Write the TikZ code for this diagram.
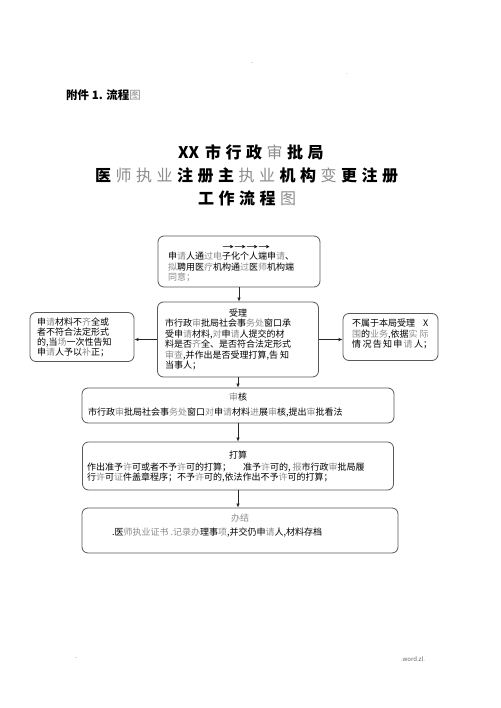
\documentclass[tikz,border=0pt]{standalone}
\usepackage{fontspec}
\setmainfont{Noto Sans CJK SC}
\newfontfamily\dejavu{DejaVu Sans}
\usetikzlibrary{arrows.meta}
\definecolor{lg}{gray}{0.55}
\definecolor{boxc}{gray}{0.35}
\newcommand\gr[1]{\textcolor{lg}{#1}}
\newcommand\grm[1]{\textcolor{lg}{\mdseries #1}}
\newcommand\ts{\hspace{4.5pt}}
\begin{document}
\begin{tikzpicture}[x=1pt,y=-1pt,
  box/.style={draw=boxc,line width=0.8pt,rounded corners=6pt,inner sep=0pt},
  txt/.style={inner sep=0pt,align=left,anchor=north west,font=\fontsize{9}{10.5}\selectfont},
  ctr/.style={inner sep=0pt,font=\fontsize{9}{10.5}\selectfont},
  conn/.style={draw=black!85,line width=0.7pt,-{Latex[length=4pt,width=3.5pt]}},
  ttl/.style={inner sep=0pt,anchor=west,font=\fontsize{16}{20}\selectfont\bfseries},
  straymark/.style={inner sep=0pt,text=lg,font=\fontsize{6}{6}\selectfont}]
\useasboundingbox (0,0) rectangle (500,708);
\fill[white] (0,0) rectangle (500,708);

% header and title
\node[inner sep=0pt,anchor=west,font=\fontsize{11.5}{12}\selectfont\bfseries] (hdr) at (66,95) {附件 1. 流程\gr{\mdseries 图}};
\node[ttl] (t1) at (178,152) {XX\hspace{6pt}市\ts 行\ts 政\ts\grm{审}\ts 批\ts 局};
\node[ttl] (t2) at (95,175) {医\ts\grm{师}\ts\grm{执}\ts\grm{业}\ts 注\ts 册\ts 主\ts\grm{执}\ts\grm{业}\ts 机\ts 构\ts\grm{变}\ts 更\ts 注\ts 册};
\node[ttl] (t3) at (198,198) {工\ts 作\ts 流\ts 程\ts\grm{图}};

% stray marks
\node[straymark] (m1) at (252,64) {-};
\node[straymark] (m2) at (347,74) {.};
\node[straymark] (m3) at (76,659) {-};
\node[straymark,text=black!60] (m4) at (413,659) {.word.zl.};

% boxes
\node[box,minimum width=162pt,minimum height=51pt] (b1) at (239,261.5) {};
\node[box,minimum width=161pt,minimum height=75pt] (b2) at (238,339.5) {};
\node[box,minimum width=104pt,minimum height=49pt] (bl) at (82,337) {};
\node[box,minimum width=95pt,minimum height=47pt] (br) at (390.5,337) {};
\node[box,minimum width=312pt,minimum height=35pt] (bs) at (238,405.5) {};
\node[box,minimum width=311pt,minimum height=48pt] (bd) at (238,466) {};
\node[box,minimum width=316pt,minimum height=45pt] (bb) at (240,530.5) {};

% box 1 text
\node[inner sep=0pt] (arr) at (246,247) {\resizebox{48pt}{4pt}{\dejavu →→→→}};
\node[txt] (b1t) at (168,252) {申\gr{请}人通\gr{过电}子化个人端申\gr{请}、\\\gr{拟}聘用医\gr{疗}机构通\gr{过}医\gr{师}机构端\\\gr{同意；}};

% box 2 text
\node[ctr] (b2h) at (238,313) {受理};
\node[txt] (b2t) at (165,319) {市行政\gr{审}批局社会事\gr{务处}窗口承\\受申\gr{请}材料,\gr{对}申\gr{请}人提交的材\\料是否\gr{齐}全、是否符合法定形式\\\gr{审查},并作出是否受理打算,告 知\\当事人；};

% left box text
\node[txt,font=\fontsize{9}{10}\selectfont] (blt) at (37,318) {申\gr{请}材料不\gr{齐}全或\\者不符合法定形式\\的,当\gr{场}一次性告知\\申\gr{请}人予以\gr{补}正；};

% right box text
\node[txt,font=\fontsize{9}{10.5}\selectfont] (brt) at (352,319) {不属于本局受理\hspace{8pt}X\\\gr{围}的\gr{业务},依据\gr{实} \gr{际}\\情\hspace{1.3pt}况\hspace{1.3pt}告\hspace{1.3pt}知\hspace{1.3pt}申\hspace{1.3pt}\gr{请}\hspace{1.3pt}人；};

% review box text
\node[ctr] (bsh) at (238,397) {\gr{审}核};
\node[ctr,anchor=west] (bst) at (88,413) {市行政\gr{审}批局社会事\gr{务处}窗口\gr{对}申\gr{请}材料\gr{进}展\gr{审}核,提出\gr{审}批看法};

% decision box text
\node[ctr] (bdh) at (238,455) {打算};
\node[txt,font=\fontsize{9}{9.6}\selectfont] (bdt) at (87,463) {作出准予\gr{许}可或者不予\gr{许}可的打算；\hspace{12pt}准予\gr{许}可的, \gr{报}市行政\gr{审}批局履\\行\gr{许}可\gr{证}件盖章程序；不予\gr{许}可的,依法作出不予\gr{许}可的打算；};

% finish box text
\node[ctr,text=lg] (bbh) at (240,518) {办结};
\node[ctr,anchor=west] (bbt) at (112,533) {.医\gr{师执业证书 .记录办}理事\gr{项},并交仍申\gr{请}人,材料存档};

% connectors
\draw[conn] (b1.south) -- (b1.south |- b2.north);
\draw[conn] (b2.west) -- (bl.east |- b2.west);
\draw[conn] (b2.east) -- (br.west |- b2.east);
\draw[conn] (b2.south) -- (b2.south |- bs.north);
\draw[conn] (bs.south) -- (bs.south |- bd.north);
\draw[conn] (bd.south) -- (bd.south |- bb.north);
\end{tikzpicture}
\end{document}
